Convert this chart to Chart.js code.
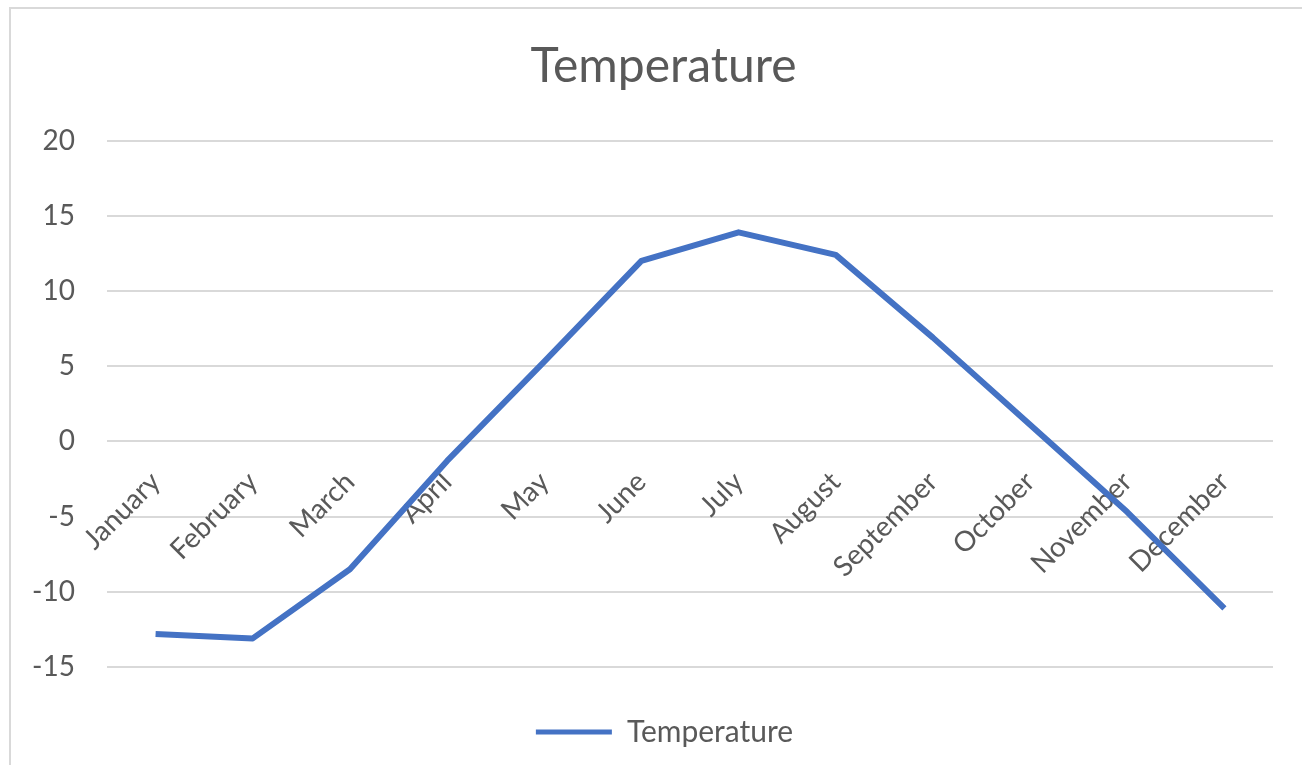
<!DOCTYPE html>
<html>
<head>
<meta charset="utf-8">
<script src="https://cdn.jsdelivr.net/npm/chart.js@4"></script>
<style>
  html, body { margin: 0; padding: 0; background: #ffffff; }
  #wrap { width: 1302px; height: 765px; position: relative; }
</style>
</head>
<body>
<div id="wrap"><canvas id="c"></canvas></div>
<script>
const categories = ["January", "February", "March", "April", "May", "June", "July", "August", "September", "October", "November", "December"];
const temperature = [-12.8, -13.1, -8.5, -1.3, 5.3, 12.0, 13.9, 12.4, 6.9, 1.1, -4.7, -11.1];
const seriesName = "Temperature";
const chartTitle = "Temperature";
const yMin = -15, yMax = 20, yStep = 5;

const textColor = '#595959';
const lineColor = '#4472C4';
const gridColor = '#d9d9d9';
const fontFamily = 'Lato, "Open Sans", sans-serif';

const frame = {
  id: 'frame',
  beforeDraw(chart) {
    const ctx = chart.ctx;
    ctx.save();
    ctx.fillStyle = '#ffffff';
    ctx.fillRect(0, 0, chart.width, chart.height);
    ctx.strokeStyle = '#d9d9d9';
    ctx.lineWidth = 2;
    ctx.strokeRect(10, 8, chart.width + 20, chart.height + 20);
    ctx.restore();
  }
};

const blockShift = {
  id: 'blockShift',
  afterLayout(chart) {
    if (chart.legend) {
      chart.legend.left += 14;
      chart.legend.right += 14;
    }
    if (chart.titleBlock) {
      chart.titleBlock.left += 13;
      chart.titleBlock.right += 13;
    }
  }
};

new Chart(document.getElementById('c'), {
  type: 'line',
  data: {
    labels: categories,
    datasets: [{
      label: seriesName,
      data: temperature,
      borderColor: lineColor,
      backgroundColor: lineColor,
      borderWidth: 6,
      pointRadius: 0,
      pointHoverRadius: 0,
      tension: 0,
      borderJoinStyle: 'round',
      fill: false
    }]
  },
  options: {
    responsive: true,
    maintainAspectRatio: false,
    devicePixelRatio: 1,
    animation: false,
    layout: { padding: { left: 28, right: 29, top: 8, bottom: 8 } },
    plugins: {
      title: {
        display: true,
        text: chartTitle,
        color: textColor,
        font: { family: fontFamily, size: 48, weight: 'normal' },
        padding: { top: 30, bottom: 45 }
      },
      legend: {
        display: true,
        position: 'bottom',
        labels: {
          color: textColor,
          font: { family: fontFamily, size: 30 },
          boxWidth: 76,
          boxHeight: 5,
          padding: 50,
          generateLabels(chart) {
            return chart.data.datasets.map((ds, i) => ({
              text: ds.label,
              fillStyle: lineColor,
              strokeStyle: lineColor,
              lineWidth: 0,
              hidden: false,
              datasetIndex: i,
              fontColor: textColor
            }));
          }
        }
      },
      tooltip: { enabled: false }
    },
    scales: {
      x: {
        type: 'category',
        position: { y: 0 },
        offset: true,
        grid: { display: false, drawTicks: false },
        border: { display: false },
        afterFit(scale) {
          scale.paddingLeft = 0;
          scale.paddingRight = 0;
        },
        ticks: {
          autoSkip: false,
          minRotation: 45,
          maxRotation: 45,
          padding: 24,
          color: textColor,
          font: { family: fontFamily, size: 28 }
        }
      },
      y: {
        position: 'left',
        min: yMin,
        max: yMax,
        grid: { color: gridColor, lineWidth: 2, drawTicks: false },
        border: { display: false },
        ticks: {
          stepSize: yStep,
          padding: 32,
          color: textColor,
          font: { family: fontFamily, size: 28 }
        },
        afterFit(scale) {
          scale.width = 79;
        }
      }
    }
  },
  plugins: [frame, blockShift]
});
</script>
</body>
</html>
